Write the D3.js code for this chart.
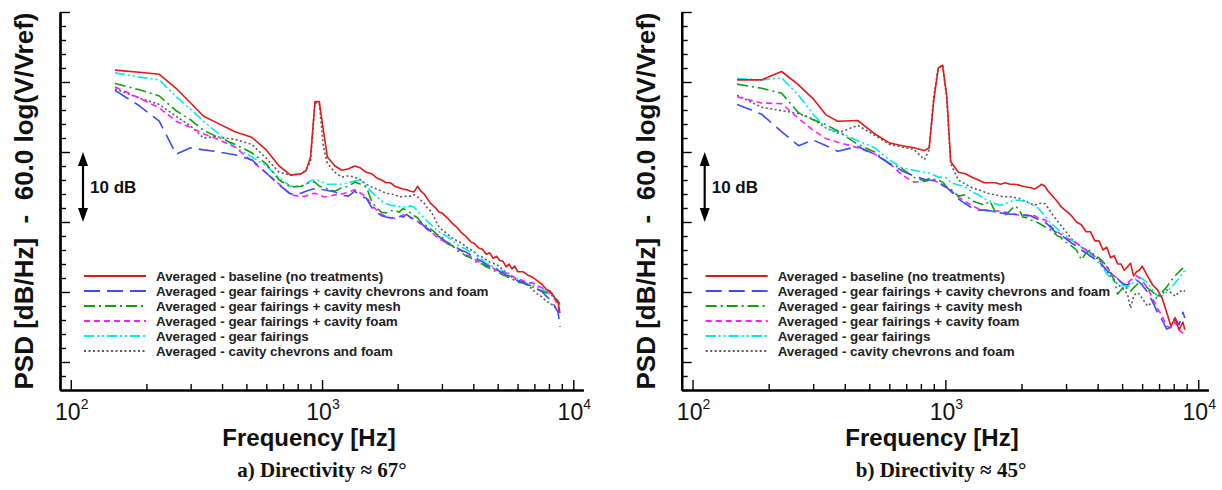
<!DOCTYPE html>
<html><head><meta charset="utf-8">
<script src="https://cdn.jsdelivr.net/npm/d3@7"></script>
<style>body{margin:0;background:#fff}svg{display:block}</style>
</head><body>
<svg id="chart" width="1222" height="490"></svg>
<script>
// ---------- data ----------
const freq = [150,187.5,225,262.5,300,337.5,375,450,525,600,675,750,825,862.5,900,937.5,975,1012.5,1050,1125,1200,1275,1350,1425,1500,
  1575,1650,1725,1800,1875,1950,2025,2100,2175,2250,2325,2400,2475,2550,2625,2700,2775,2850,2925,3000,
  3150,3300,3450,3600,3750,3900,4050,4200,4350,4500,4650,4800,4950,5100,5250,5400,5550,5700,5850,6000,
  6300,6600,6900,7200,7500,7800,8100,8400,8700,8850];

const seriesNames = [
  "Averaged - baseline (no treatments)",
  "Averaged - gear fairings + cavity chevrons and foam",
  "Averaged - gear fairings + cavity mesh",
  "Averaged - gear fairings + cavity foam",
  "Averaged - gear fairings",
  "Averaged - cavity chevrons and foam"
];

// panel a) directivity ~67 deg
const a_baseline = [41.7,41.4,41.1,39.1,37.0,35.1,34.3,32.9,32.1,30.3,28.0,26.7,26.9,27.3,29.3,37.2,37.2,33.1,29.3,28.0,
  27.4,27.6,28.0,27.7,27.1,26.9,26.3,26.0,25.6,25.6,25.1,24.9,24.7,24.6,24.4,24.3,25.1,24.4,24.0,23.3,
  22.7,22.3,21.9,21.4,21.3,20.6,19.8,19.2,18.4,17.9,17.2,16.9,16.3,16.1,15.4,15.6,14.8,15.1,14.5,14.4,
  13.6,14.0,13.3,13.7,12.9,12.9,12.4,12.1,11.6,11.1,10.4,10.1,9.3,8.4,7.0];
const a_gfChevFoam = [38.8,36.6,34.4,29.7,30.6,30.3,30.1,29.6,28.9,27.0,25.3,24.0,24.1,24.4,24.6,24.8,24.7,24.6,24.5,24.3,
  23.8,23.7,24.4,23.7,23.4,22.1,21.4,20.9,20.7,20.6,20.6,20.9,20.7,21.1,20.6,20.4,20.0,19.9,19.4,19.1,
  18.7,18.4,18.1,17.9,17.6,17.1,16.7,16.3,15.9,15.7,15.3,15.0,14.6,14.3,13.9,13.7,13.3,13.3,12.9,12.7,
  12.4,12.3,12.0,11.9,11.6,11.4,11.0,10.9,10.4,10.1,9.4,8.9,8.1,7.1,5.0];
const a_gfMesh = [39.8,38.9,38.0,35.9,34.6,33.1,32.3,31.1,29.9,28.3,26.0,25.0,25.1,25.4,25.7,25.7,25.1,25.0,24.7,24.4,
  24.9,25.1,25.7,25.4,25.0,23.0,22.0,21.4,21.3,21.6,21.7,21.4,21.9,21.7,21.3,20.9,20.6,20.0,19.7,19.3,
  19.0,18.7,18.3,18.0,17.9,16.9,16.6,15.9,15.6,15.1,14.9,14.4,14.1,14.0,13.6,13.4,13.1,12.9,12.7,12.4,
  12.3,12.0,11.9,11.6,11.4,11.3,11.0,10.7,10.4,10.1,9.9,9.6,9.3,8.7,8.3];
const a_gfFoam = [39.3,37.7,36.3,34.4,33.5,32.6,32.0,30.7,28.7,27.0,25.4,23.9,23.6,23.7,24.0,24.1,23.9,23.6,23.6,23.9,
  24.0,24.3,24.6,24.1,23.6,22.4,21.7,21.1,20.8,20.6,20.5,20.7,21.0,21.0,20.7,20.4,20.1,19.7,19.3,18.9,
  18.6,18.3,17.9,17.6,17.4,17.0,16.6,16.1,15.9,15.3,15.1,14.7,14.3,14.0,13.7,13.6,13.4,13.1,13.0,12.9,
  12.7,12.4,12.3,12.0,11.9,11.6,11.3,11.3,10.9,10.6,10.3,9.9,9.1,8.1,6.6];
const a_gf = [41.3,40.7,40.3,37.9,36.1,34.4,33.0,30.7,29.3,28.0,26.3,25.1,25.1,25.4,25.9,26.0,25.9,25.6,25.4,25.4,
  25.4,25.6,25.9,26.0,25.1,24.3,23.6,23.0,22.6,22.4,22.3,22.2,22.2,22.1,22.3,22.1,21.6,21.0,20.6,20.1,
  19.7,19.3,18.9,18.6,18.4,17.9,17.4,16.7,16.4,16.1,15.7,15.6,14.9,14.6,14.1,13.9,13.6,13.4,13.1,13.0,
  12.7,12.6,12.3,12.1,11.9,11.6,11.1,11.0,10.7,10.4,10.1,9.7,9.3,8.6,8.1];
const a_chevFoam = [39.0,37.7,36.8,35.1,33.7,32.0,32.2,31.8,31.1,29.1,27.1,26.7,26.9,27.4,28.6,37.0,37.0,30.7,28.4,27.1,
  26.4,26.6,26.4,26.0,25.4,25.0,24.7,24.4,24.1,24.0,23.9,23.6,23.6,23.7,23.7,23.9,23.6,23.1,22.7,22.0,
  21.6,20.9,20.0,19.3,18.9,18.3,17.7,17.3,17.0,16.4,16.1,15.7,15.1,15.0,14.6,14.3,14.1,13.9,13.6,13.1,
  12.9,12.6,12.1,11.9,11.7,11.3,11.0,10.3,9.7,9.3,8.7,8.4,7.9,7.3,7.0];

// panel b) directivity ~45 deg
const b_baseline = [40.3,40.3,41.5,39.6,37.6,35.3,34.4,34.5,32.6,31.3,30.9,30.6,30.2,30.6,37.4,42.0,42.4,38.0,28.6,27.1,
  26.9,26.4,26.0,25.6,25.6,25.6,25.4,25.6,25.4,25.4,25.3,25.1,25.0,24.9,24.7,25.0,25.4,25.1,24.4,23.9,
  23.4,22.9,22.3,21.9,21.6,20.9,20.0,19.6,18.6,18.6,17.3,17.3,16.0,16.4,14.9,15.2,14.0,14.0,13.1,13.6,
  14.1,12.3,12.9,13.1,13.7,12.3,11.0,10.3,9.1,7.1,5.1,6.3,4.6,5.7,4.6];
const b_gfChevFoam = [36.8,35.4,32.9,30.9,31.7,30.9,30.1,30.8,29.7,28.4,27.3,26.6,26.1,26.0,25.9,25.7,25.3,24.9,24.4,23.3,
  22.6,22.0,21.7,21.7,21.6,21.4,21.3,21.2,21.1,21.1,21.0,21.0,20.9,20.9,20.6,20.4,20.3,20.0,19.6,19.1,
  18.7,18.4,18.1,17.9,17.6,17.0,16.6,16.0,15.6,15.1,14.7,14.3,13.7,13.1,12.7,12.3,11.9,11.4,11.1,11.0,
  11.3,11.6,11.7,11.4,11.0,10.0,8.6,7.1,6.0,4.7,5.0,6.3,5.3,7.1,6.3];
const b_gfMesh = [39.7,39.1,38.4,35.6,34.6,33.9,33.0,31.1,30.0,28.3,27.6,26.4,25.9,26.2,26.1,26.0,25.7,25.0,24.7,23.7,
  23.9,23.0,22.7,22.4,23.0,21.4,21.3,21.0,21.6,22.3,21.9,20.7,20.6,20.3,20.1,19.9,19.6,19.3,19.1,18.7,
  18.4,18.0,17.9,17.4,17.1,16.6,16.0,14.6,15.6,16.0,15.1,14.9,14.3,13.7,12.9,11.7,9.7,10.3,10.9,10.4,
  10.1,10.6,11.0,11.4,11.1,10.6,10.0,9.4,10.0,10.7,11.6,12.3,12.9,13.4,13.7];
const b_gfFoam = [37.9,37.0,36.9,34.8,33.1,31.9,31.4,30.6,29.7,28.4,26.7,25.7,25.8,25.9,26.0,25.6,25.2,24.9,24.5,23.6,
  22.9,22.3,21.9,21.7,21.6,21.6,21.5,21.4,21.3,21.1,21.0,21.0,21.0,21.0,20.9,20.6,20.4,20.3,19.9,19.3,
  18.9,18.6,18.3,18.0,17.7,17.4,17.0,16.4,16.0,15.6,15.1,14.7,14.1,13.6,12.9,12.3,11.9,11.4,11.1,11.3,
  11.7,12.0,12.3,12.0,11.6,10.6,9.1,7.6,6.6,5.1,4.9,5.7,4.6,4.1,3.7];
const b_gf = [40.5,40.3,40.6,38.1,35.4,33.4,32.9,31.6,30.6,28.9,27.7,27.4,27.1,27.0,26.7,26.4,26.4,26.3,25.6,25.3,
  25.0,24.3,23.9,23.3,23.0,22.6,22.4,22.6,22.9,23.1,23.1,23.0,22.9,22.6,22.3,22.0,21.4,20.9,20.3,19.7,
  19.4,19.0,18.6,18.3,18.0,17.4,17.0,16.4,16.0,15.4,14.7,14.1,13.4,12.6,12.0,11.6,11.3,11.0,10.9,10.7,
  10.9,11.4,12.0,12.1,11.9,11.3,10.3,9.4,9.4,10.0,10.6,11.3,12.0,12.7,13.1];
const b_chevFoam = [38.1,36.4,35.9,35.5,34.7,33.4,32.7,33.8,32.4,31.1,30.7,30.4,28.9,30.3,38.1,42.0,42.4,37.7,28.3,26.0,
  25.4,24.9,24.6,24.3,24.0,23.9,23.7,23.6,23.6,23.5,23.4,23.1,22.9,22.6,22.4,22.6,22.7,22.6,22.0,21.3,
  20.7,20.1,19.6,19.1,18.6,17.6,17.0,16.4,16.0,15.6,15.0,14.6,13.7,13.0,12.3,11.7,11.1,10.7,10.3,9.7,
  7.7,9.4,9.9,9.7,9.1,8.0,8.6,9.3,9.7,10.3,9.9,9.4,10.0,10.3,10.1];

const panelCaptions = ["a) Directivity \u2248 67\u00b0", "b) Directivity \u2248 45\u00b0"];
const xMajorTicks = [100, 1000, 10000];
const xMajorExponents = ["2", "3", "4"];
const yMajorTicks = [0, 10, 20, 30, 40, 50];
const xTitle = "Frequency [Hz]";
const yTitle = "PSD [dB/Hz]  -  60.0 log(V/Vref)";
const scaleBarLabel = "10 dB";

// ---------- styles ----------
const colors = ["#dd1c1c", "#3b4ff0", "#12a012", "#ff1cff", "#00eaea", "#5a5a5a"];
const dashes = [null, "16,7", "11,4,2,4", "6,4", "10,3,2,3,2,3", "2,2.5"];
const drawOrder = [5, 4, 3, 2, 1, 0];

const panels = [
  {x0: 60, x1: 583.3, caption: panelCaptions[0], data: [a_baseline, a_gfChevFoam, a_gfMesh, a_gfFoam, a_gf, a_chevFoam], titleX: 309, capX: 322},
  {x0: 681.7, x1: 1208.3, caption: panelCaptions[1], data: [b_baseline, b_gfChevFoam, b_gfMesh, b_gfFoam, b_gf, b_chevFoam], titleX: 932, capX: 941}
];

const svg = d3.select("#chart");
const SANS = "'Liberation Sans', Arial, Helvetica, sans-serif";
const SERIF = "'Liberation Serif', 'Times New Roman', serif";

panels.forEach(p => {
  const x = d3.scaleLog().domain([90.6, 10960]).range([p.x0, p.x1]);
  const y = d3.scaleLinear().domain([-4, 50]).range([390, 12]);
  const g = svg.append("g");

  // minor ticks
  const xMinor = [];
  [100, 1000].forEach(d => { for (let k = 2; k <= 9; k++) xMinor.push(d * k); });
  const yMinor = d3.range(-4, 50.01, 2).filter(v => !yMajorTicks.includes(v));

  const xAxisMinor = g.append("g").attr("transform", "translate(0,390)")
    .call(d3.axisBottom(x).tickValues(xMinor).tickSizeInner(-6).tickSizeOuter(0).tickFormat(""));
  const xAxisMajor = g.append("g").attr("transform", "translate(0,390)")
    .call(d3.axisBottom(x).tickValues(xMajorTicks).tickSizeInner(-10).tickSizeOuter(0).tickFormat(""));
  const yAxisMinor = g.append("g").attr("transform", `translate(${p.x0},0)`)
    .call(d3.axisLeft(y).tickValues(yMinor).tickSizeInner(-6).tickSizeOuter(0).tickFormat(""));
  const yAxisMajor = g.append("g").attr("transform", `translate(${p.x0},0)`)
    .call(d3.axisLeft(y).tickValues(yMajorTicks).tickSizeInner(-10).tickSizeOuter(0).tickFormat(""));
  [xAxisMinor, xAxisMajor, yAxisMinor, yAxisMajor].forEach(a => {
    a.selectAll(".tick line").attr("stroke", "#000").attr("stroke-width", 1.4);
    a.select(".domain").attr("stroke", "#000").attr("stroke-width", 2.2);
  });

  // x tick labels 10^n
  xMajorTicks.forEach((v, i) => {
    const t = g.append("text").attr("x", x(v) + 1).attr("y", 420)
      .attr("text-anchor", "middle").attr("font-family", SANS).attr("font-size", 23).attr("fill", "#111");
    t.append("tspan").text("10");
    t.append("tspan").attr("font-size", 14).attr("dy", -11).text(xMajorExponents[i]);
  });

  // axis titles
  g.append("text").attr("x", p.titleX).attr("y", 446).attr("text-anchor", "middle")
    .attr("font-family", SANS).attr("font-weight", "bold").attr("font-size", 24).attr("fill", "#111").text(xTitle);
  g.append("text").attr("transform", `translate(${p.x0 - 27},201) rotate(-90)`).attr("text-anchor", "middle")
    .attr("font-family", SANS).attr("font-weight", "bold").attr("font-size", 26).attr("fill", "#111")
    .attr("xml:space", "preserve").style("white-space", "pre").text(yTitle);

  // caption
  g.append("text").attr("x", p.capX).attr("y", 477).attr("text-anchor", "middle")
    .attr("font-family", SERIF).attr("font-weight", "bold").attr("font-size", 21).attr("fill", "#111").text(p.caption);

  // 10 dB scale bar
  const bx = p.x0 + 23;
  const y1 = y(30), y2 = y(20);
  g.append("line").attr("x1", bx).attr("x2", bx).attr("y1", y1 + 10).attr("y2", y2 - 10)
    .attr("stroke", "#000").attr("stroke-width", 2.2);
  g.append("path").attr("d", `M${bx},${y1}L${bx - 5},${y1 + 14}L${bx + 5},${y1 + 14}Z`).attr("fill", "#000");
  g.append("path").attr("d", `M${bx},${y2}L${bx - 5},${y2 - 14}L${bx + 5},${y2 - 14}Z`).attr("fill", "#000");
  g.append("text").attr("x", bx + 7).attr("y", (y1 + y2) / 2 + 6).attr("font-family", SANS)
    .attr("font-weight", "bold").attr("font-size", 17).attr("fill", "#111").text(scaleBarLabel);

  // legend
  const leg = g.append("g");
  seriesNames.forEach((name, i) => {
    const ly = 276 + i * 15;
    leg.append("line").attr("x1", p.x0 + 24).attr("x2", p.x0 + 86).attr("y1", ly).attr("y2", ly)
      .attr("stroke", colors[i]).attr("stroke-width", 1.8).attr("stroke-dasharray", dashes[i]);
    leg.append("text").attr("x", p.x0 + 96).attr("y", ly + 4.8).attr("font-family", SANS)
      .attr("font-weight", "bold").attr("font-size", 13.4).attr("fill", "#222").text(name);
  });

  // curves
  const line = d3.line().x(d => x(d[0])).y(d => y(d[1]));
  drawOrder.forEach(i => {
    const pts = freq.map((f, k) => [f, p.data[i][k]]);
    g.append("path").attr("d", line(pts)).attr("fill", "none")
      .attr("stroke", colors[i]).attr("stroke-width", 1.6)
      .attr("stroke-dasharray", dashes[i]).attr("stroke-linejoin", "round");
  });
});
</script>
</body></html>
